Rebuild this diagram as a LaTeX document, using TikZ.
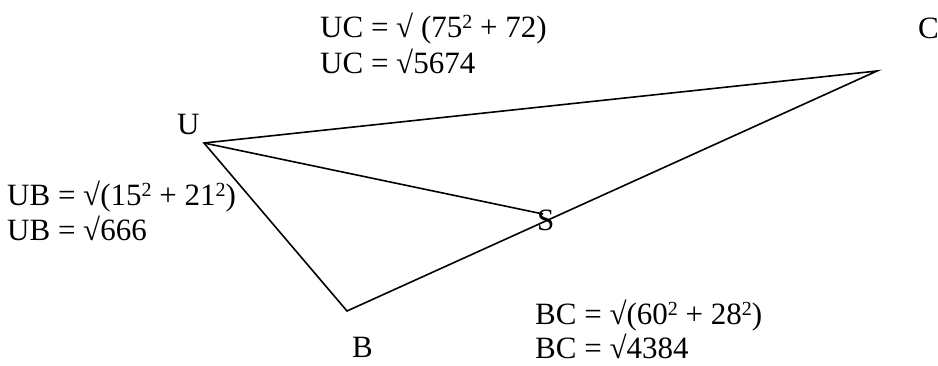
\documentclass[tikz,border=0pt]{standalone}
\usepackage{fontspec}
\setmainfont{Liberation Serif}
\newcommand{\supsc}[1]{\raisebox{9.5pt}{\fontsize{20}{20}\selectfont #1}}
\begin{document}
\begin{tikzpicture}[x=1pt,y=-1pt,
  edge/.style={line width=1.6pt,line join=miter},
  txt/.style={font=\fontsize{31}{36}\selectfont,inner sep=0pt,anchor=base west}]
\useasboundingbox (0,0) rectangle (938,366);
\coordinate (U) at (204,143);
\coordinate (C) at (877,71);
\coordinate (B) at (347,311);
\coordinate (S) at (543,214);
\draw[edge] (U) -- (C) -- (B) -- cycle;
\draw[edge] (U) -- (S);
\node[txt] (lu) at (177,135) {U};
\node[txt] (lc) at (918,39) {C};
\node[txt] (ls) at (537,231) {S};
\node[txt] (lb) at (352,358) {B};
\node[txt] (uc1) at (320,38) {UC = √ (75\supsc{2} + 72)};
\node[txt] (uc2) at (320,74) {UC = √5674};
\node[txt] (ub1) at (7,206) {UB = √(15\supsc{2} + 21\supsc{2})};
\node[txt] (ub2) at (7,241) {UB = √666};
\node[txt] (bc1) at (535,325) {BC = √(60\supsc{2} + 28\supsc{2})};
\node[txt] (bc2) at (535,359) {BC = √4384};
\end{tikzpicture}
\end{document}
